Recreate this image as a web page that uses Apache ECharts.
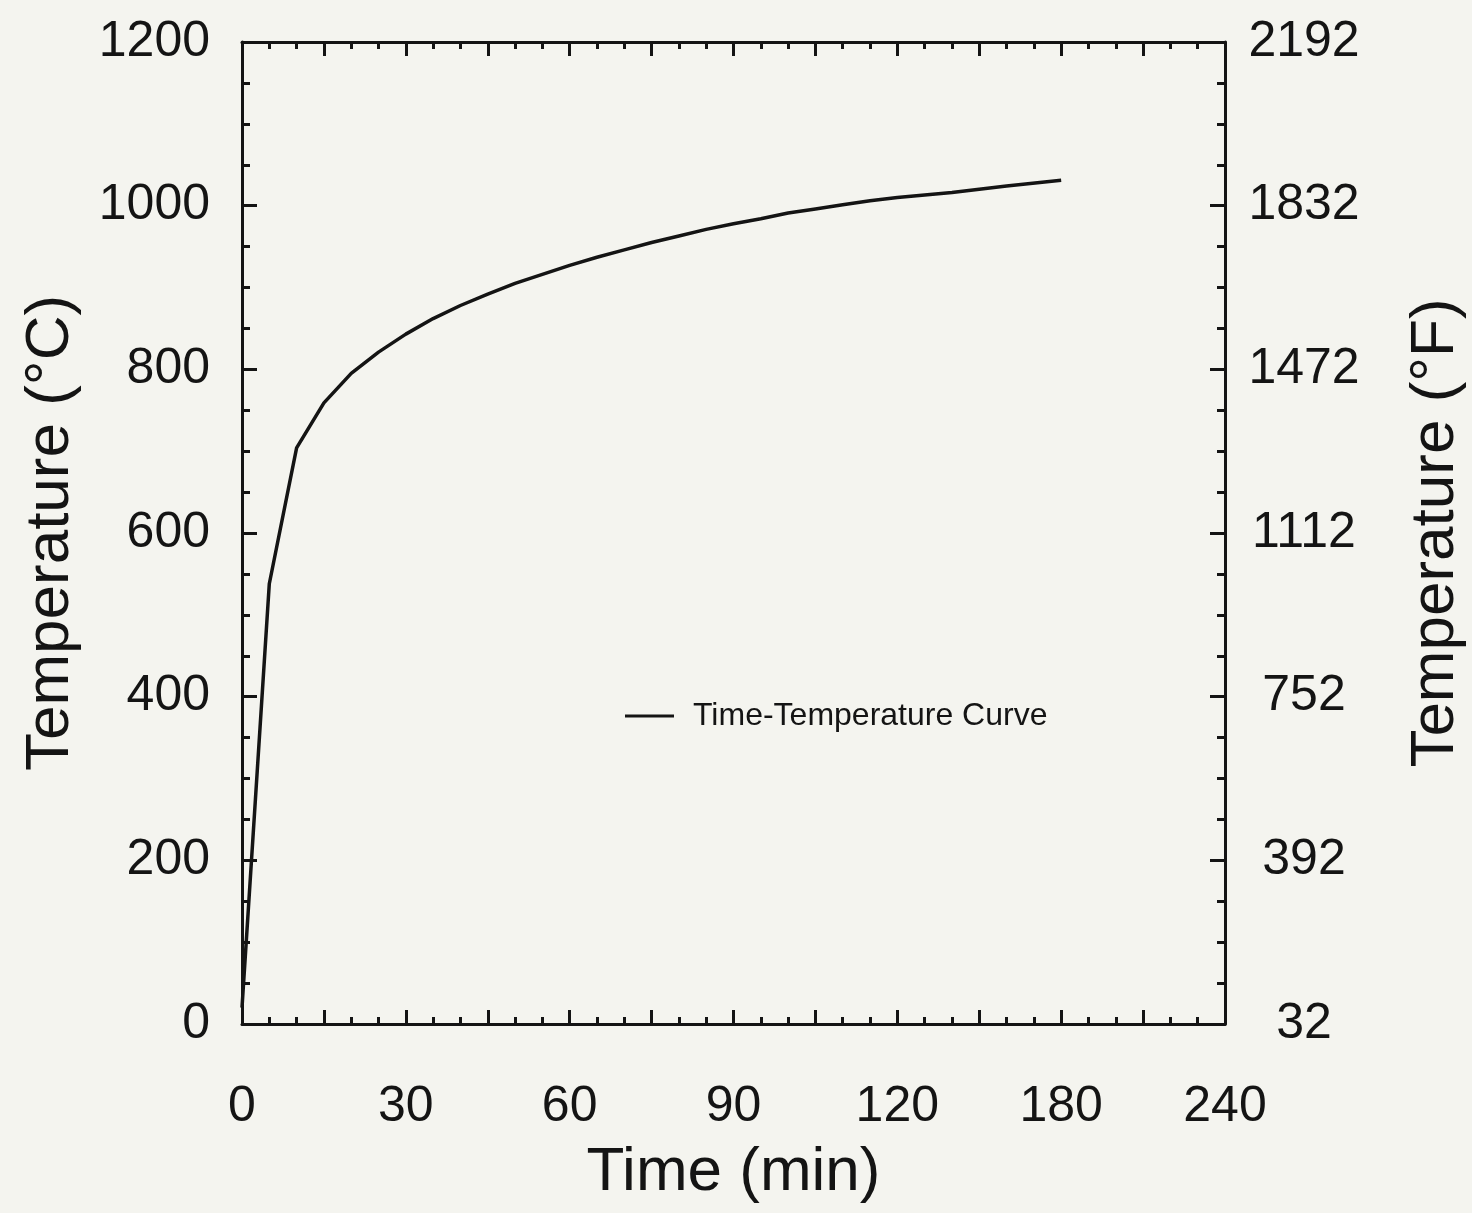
<!DOCTYPE html>
<html>
<head>
<meta charset="utf-8">
<script src="https://cdn.jsdelivr.net/npm/echarts@6/dist/echarts.min.js"></script>
<style>
html,body{margin:0;padding:0;background:#f4f4ef;}
#c{width:1472px;height:1213px;}
</style>
</head>
<body>
<div id="c"></div>
<script>
// Time (min) and temperature (°C)
const timeMin = [0, 5, 10, 15, 20, 25, 30, 35, 40, 45, 50, 55, 60, 65, 70, 75, 80, 85, 90, 95, 100, 105, 110, 115, 120, 130, 140, 150];
const tempC   = [20, 538, 704, 759, 795, 821, 843, 862, 878, 892, 905, 916, 927, 937, 946, 955, 963, 971, 978, 984, 991, 996, 1001, 1006, 1010, 1016, 1024, 1031];
// Tick labels as printed on the figure
const xTickLabels = ['0', '30', '60', '90', '120', '180', '240'];
const yTickLabelsC = ['0', '200', '400', '600', '800', '1000', '1200'];
const yTickLabelsF = ['32', '392', '752', '1112', '1472', '1832', '2192'];
const seriesName = 'Time-Temperature Curve';

const FONT = '"Liberation Sans", Arial, Helvetica, sans-serif';
const INK = '#141414';

const chart = echarts.init(document.getElementById('c'), null, {renderer: 'canvas'});

const baseX = {
  type: 'value', min: 0, max: 180, interval: 15,
  axisLine: {show: true, onZero: false, lineStyle: {color: INK, width: 3}},
  axisTick: {show: true, inside: true, length: 14, lineStyle: {color: INK, width: 3}},
  minorTick: {show: true, splitNumber: 3, length: 7, lineStyle: {color: INK, width: 3}},
  splitLine: {show: false}, minorSplitLine: {show: false}
};
const baseY = {
  type: 'value', min: 0, max: 1200, interval: 200,
  axisLine: {show: true, onZero: false, lineStyle: {color: INK, width: 3}},
  axisTick: {show: true, inside: true, length: 15, lineStyle: {color: INK, width: 3}},
  minorTick: {show: true, splitNumber: 4, length: 8, lineStyle: {color: INK, width: 3}},
  splitLine: {show: false}, minorSplitLine: {show: false}
};

chart.setOption({
  backgroundColor: '#f4f4ef',
  animation: false,
  grid: {left: 242, top: 42, right: 247, bottom: 189, containLabel: false, outerBoundsMode: 'none'},
  legend: {
    data: [seriesName],
    left: 620, top: 695,
    icon: 'rect', itemWidth: 49, itemHeight: 3, itemGap: 10,
    textStyle: {fontFamily: FONT, fontSize: 32, color: INK, padding: [0, 0, 0, 14]}
  },
  xAxis: [
    Object.assign({}, baseX, {
      position: 'bottom',
      name: 'Time (min)', nameLocation: 'middle', nameGap: 118,
      nameTextStyle: {fontFamily: FONT, fontSize: 62, color: INK},
      axisLabel: {
        show: true, margin: 58, fontFamily: FONT, fontSize: 50, color: INK,
        formatter: v => (v % 30 === 0 ? xTickLabels[v / 30] : '')
      }
    }),
    Object.assign({}, baseX, {position: 'top', axisLabel: {show: false}})
  ],
  yAxis: [
    Object.assign({}, baseY, {
      position: 'left',
      name: 'Temperature (°C)', nameLocation: 'middle', nameGap: 160, nameRotate: 90,
      nameTextStyle: {fontFamily: FONT, fontSize: 62, color: INK},
      axisLabel: {
        show: true, margin: 32, fontFamily: FONT, fontSize: 50, color: INK,
        formatter: v => yTickLabelsC[v / 200]
      }
    }),
    Object.assign({}, baseY, {
      position: 'right',
      name: 'Temperature (°F)', nameLocation: 'middle', nameGap: 180, nameRotate: 90,
      nameTextStyle: {fontFamily: FONT, fontSize: 62, color: INK},
      axisLabel: {
        show: true, margin: 79, align: 'center', fontFamily: FONT, fontSize: 50, color: INK,
        formatter: v => yTickLabelsF[v / 200]
      }
    })
  ],
  series: [{
    name: seriesName,
    type: 'line',
    xAxisIndex: 0, yAxisIndex: 0,
    data: timeMin.map((t, i) => [t, tempC[i]]),
    showSymbol: false,
    smooth: false,
    lineStyle: {color: INK, width: 3.5},
    itemStyle: {color: INK}
  }]
});
</script>
</body>
</html>
